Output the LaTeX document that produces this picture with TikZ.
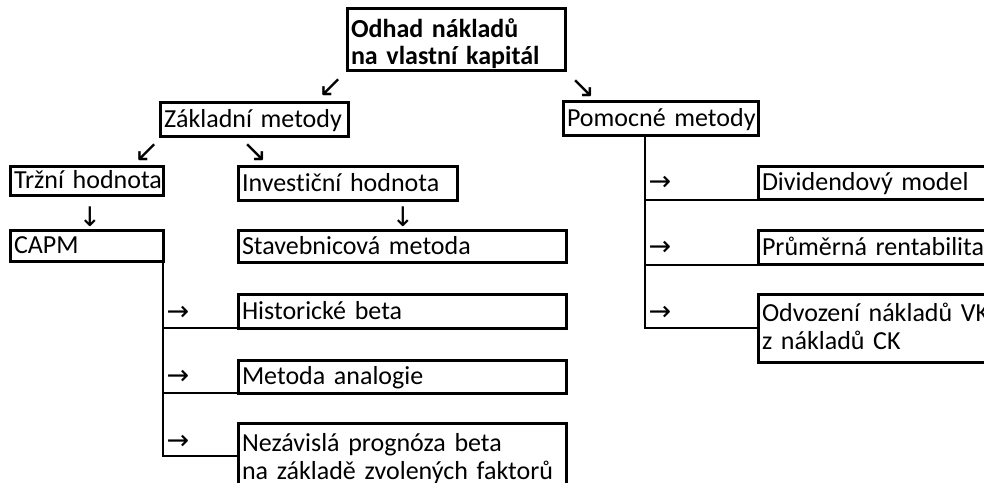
\documentclass[tikz,border=0pt]{standalone}
\usepackage{fontspec}
\setmainfont{Carlito}[Ligatures=NoCommon]
\newfontfamily\arrowfont{DejaVu Sans}
\begin{document}
\begin{tikzpicture}[x=1bp,y=-1bp,
  box/.style={draw, line width=3bp, anchor=north west, outer sep=0pt, inner xsep=4bp, inner ysep=0pt,
    align=left, text height=20bp, text depth=5bp, font=\fontsize{26bp}{28bp}\selectfont},
  conn/.style={line width=2bp},
  arr/.style={inner sep=0pt, font=\arrowfont\fontsize{27bp}{27bp}\selectfont},
  darr/.style={inner sep=0pt, font=\arrowfont\fontsize{30bp}{30bp}\selectfont}]
\useasboundingbox (0,0) rectangle (984,483);
\clip (0,0) rectangle (984,483);
% boxes
\node[box, text width=210bp, minimum height=62bp, text height=26bp, text depth=30bp, font=\bfseries\fontsize{26bp}{27bp}\selectfont] (top) at (347,9) {\mbox{Odhad nákladů}\\\mbox{na vlastní kapitál}};
\node[box, text width=180bp, minimum height=34bp] (zakl) at (160,103) {\mbox{Základní metody}};
\node[box, text width=187bp, minimum height=34bp] (pomoc) at (563,102) {\mbox{Pomocné metody}};
\node[box, text width=145bp, minimum height=29bp] (trzni) at (10,167) {\mbox{Tržní hodnota}};
\node[box, text width=211bp, minimum height=34bp] (invest) at (238,167) {\mbox{Investiční hodnota}};
\node[box, text width=145bp, minimum height=31bp] (capm) at (10,231) {\mbox{CAPM}};
\node[box, text width=320bp, minimum height=32bp] (stav) at (238,231) {\mbox{Stavebnicová metoda}};
\node[box, text width=320bp, minimum height=33bp] (hist) at (238,295) {\mbox{Historické beta}};
\node[box, text width=320bp, minimum height=33bp] (anal) at (238,360) {\mbox{Metoda analogie}};
\node[box, text width=320bp, minimum height=69bp, text depth=33bp] (nez) at (238,423) {\mbox{Nezávislá prognóza beta}\\\mbox{na základě zvolených faktorů}};
\node[box, text width=229bp, minimum height=33bp] (divid) at (758,167) {\mbox{Dividendový model}};
\node[box, text width=229bp, minimum height=34bp] (prum) at (758,231) {\mbox{Průměrná rentabilita}};
\node[box, text width=229bp, minimum height=67bp, text depth=35bp] (odv) at (758,295) {\mbox{Odvození nákladů VK}\\\mbox{z nákladů CK}};
% arrow glyphs
\node[darr] (a1) at (331,88) {↙};
\node[darr] (a2) at (583,89) {↘};
\node[darr] (a3) at (147,153) {↙};
\node[darr] (a4) at (255,153) {↘};
\node[arr] (a5) at (90,217) {↓};
\node[arr] (a6) at (403,217) {↓};
\node[arr] (a7) at (178,313) {→};
\node[arr] (a8) at (178,377) {→};
\node[arr] (a9) at (178,442) {→};
\node[arr] (a10) at (660,183) {→};
\node[arr] (a11) at (660,248) {→};
\node[arr] (a12) at (660,313) {→};
% connectors
\draw[conn] (capm.south east) |- (hist.south west);
\draw[conn] (capm.south east) |- (anal.south west);
\draw[conn] (capm.south east) |- ([yshift=-33bp]nez.north west);
\coordinate (pv) at ([xshift=82bp]pomoc.south west);
\draw[conn] (pv) |- (divid.south west);
\draw[conn] (pv) |- (prum.south west);
\draw[conn] (pv) |- ([yshift=-33bp]odv.north west);
\end{tikzpicture}
\end{document}
